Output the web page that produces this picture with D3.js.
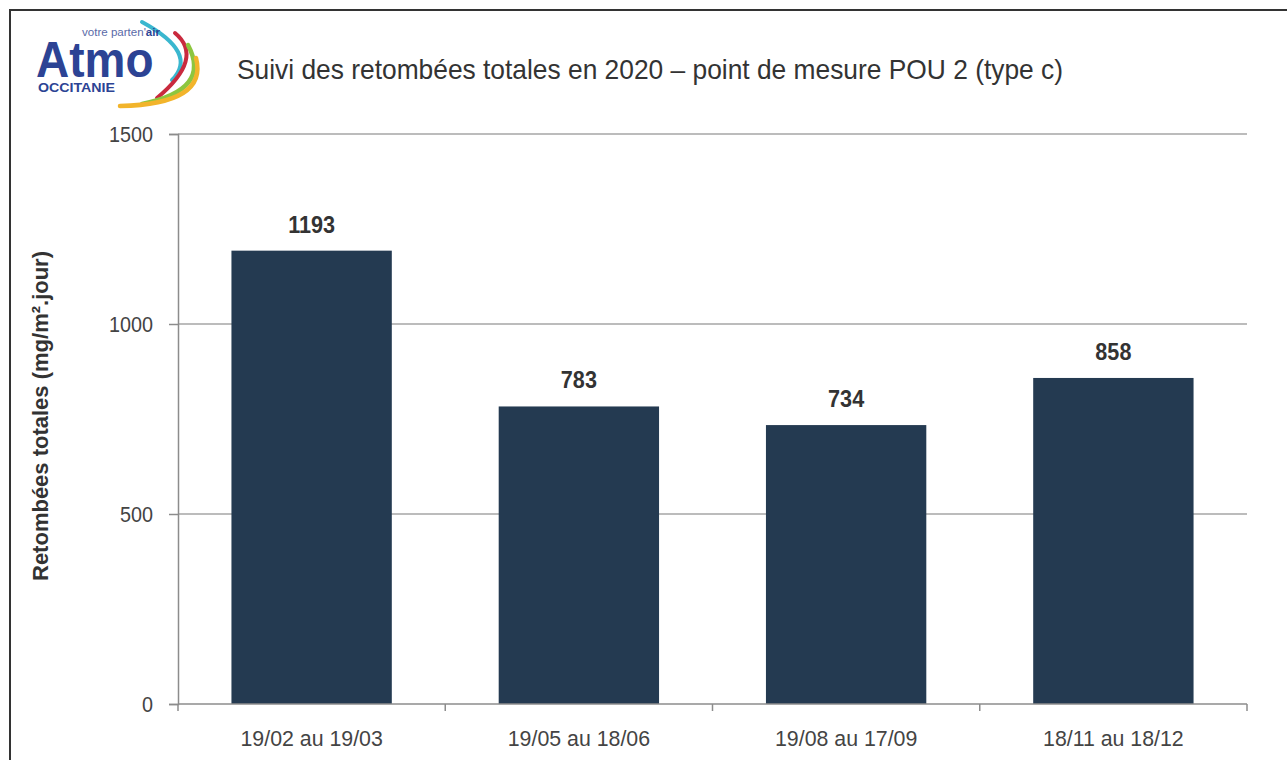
<!DOCTYPE html>
<html><head><meta charset="utf-8">
<script src="https://cdn.jsdelivr.net/npm/d3@7"></script>
<style>
html,body{margin:0;padding:0;background:#fff;}
svg{display:block;font-family:"Liberation Sans",Arial,sans-serif;}
</style></head>
<body>
<svg id="c" width="1287" height="760"></svg>
<script>
const categories = ["19/02 au 19/03", "19/05 au 18/06", "19/08 au 17/09", "18/11 au 18/12"];
const values = [1193, 783, 734, 858];
const yTicks = [0, 500, 1000, 1500];
const title = "Suivi des retombées totales en 2020 – point de mesure POU 2 (type c)";
const yLabel = "Retombées totales (mg/m².jour)";

const svg = d3.select("#c");
const W = 1287, H = 760;
const m = {left:178, right:1247, top:134, bottom:704};

svg.append("rect").attr("width",W).attr("height",H).attr("fill","#fff");
// frame
svg.append("path").attr("d",`M10,${H+5} L10,10 L${W+5},10`).attr("fill","none").attr("stroke","#333").attr("stroke-width",2);

const x = d3.scaleBand().domain(categories).range([m.left,m.right]).paddingInner(0.4).paddingOuter(0.2);
const y = d3.scaleLinear().domain([0,1500]).range([m.bottom,m.top]);

// gridlines
svg.append("g").selectAll("line").data(yTicks.filter(d=>d>0)).join("line")
  .attr("x1",m.left).attr("x2",m.right).attr("y1",d=>y(d)).attr("y2",d=>y(d))
  .attr("stroke","#a6a6a6").attr("stroke-width",1.5);

// y axis
const yAxis = svg.append("g").attr("transform",`translate(${m.left},0)`)
  .call(d3.axisLeft(y).tickValues(yTicks).tickFormat(d3.format("d")).tickSize(9).tickPadding(16));
yAxis.select(".domain").attr("stroke","#8c8c8c").attr("stroke-width",1.5);
yAxis.selectAll(".tick line").attr("stroke","#8c8c8c").attr("stroke-width",1.5);
yAxis.selectAll(".tick text").attr("font-size",22).attr("fill","#444")
  .attr("font-family","Liberation Sans, Arial, sans-serif")
  .each(function(){
    const t=d3.select(this); const xx=+t.attr("x");
    t.attr("x",0).attr("transform",`translate(${xx},0) scale(0.9,1)`).attr("dy","0.36em");
  });

// bars
svg.append("g").selectAll("rect").data(values).join("rect")
  .attr("x",(d,i)=>x(categories[i])).attr("width",x.bandwidth())
  .attr("y",d=>y(d)).attr("height",d=>y(0)-y(d)).attr("fill","#243a51");

// x axis
const xb = d3.scaleLinear().domain([0,categories.length]).range([m.left,m.right]);
svg.append("line").attr("x1",m.left).attr("x2",m.right).attr("y1",y(0)).attr("y2",y(0))
  .attr("stroke","#8c8c8c").attr("stroke-width",1.5);
svg.append("g").selectAll("line").data(d3.range(categories.length+1)).join("line")
  .attr("x1",d=>xb(d)).attr("x2",d=>xb(d)).attr("y1",y(0)).attr("y2",y(0)+7)
  .attr("stroke","#8c8c8c").attr("stroke-width",1.5);
svg.append("g").selectAll("text").data(categories).join("text")
  .attr("transform",d=>`translate(${x(d)+x.bandwidth()/2},${y(0)+42}) scale(0.97,1)`)
  .attr("text-anchor","middle").attr("font-size",22).attr("fill","#444").text(d=>d);

// value labels
svg.append("g").selectAll("text").data(values).join("text")
  .attr("transform",(d,i)=>`translate(${x(categories[i])+x.bandwidth()/2},${y(d)-18}) scale(0.9,1)`)
  .attr("text-anchor","middle").attr("font-size",24).attr("font-weight","bold").attr("fill","#333").text(d=>d);

// y label
svg.append("text").attr("transform",`translate(48,416) rotate(-90)`)
  .attr("text-anchor","middle").attr("font-size",22).attr("font-weight","bold").attr("fill","#333")
  .attr("textLength",330).attr("lengthAdjust","spacingAndGlyphs")
  .text(yLabel);

// title
svg.append("text").attr("x",237).attr("y",79).attr("font-size",28).attr("fill","#333")
  .attr("textLength",826).attr("lengthAdjust","spacingAndGlyphs").text(title);

// logo
const logo = svg.append("g");
const arcs=[
  {s:[142,22], c:[199,53], e:[172,80], col:"#3ab7cf", w:4},
  {s:[175,33], c:[205,58], e:[157,98], col:"#c92a3e", w:4},
  {s:[188,45], c:[212,90], e:[142,104], col:"#8dc63f", w:4.5},
  {s:[196,58], c:[208,104], e:[120,106], col:"#f2b42b", w:4.5},
];
arcs.forEach(a=>{
  const p=d3.path(); p.moveTo(a.s[0],a.s[1]); p.quadraticCurveTo(a.c[0],a.c[1],a.e[0],a.e[1]);
  logo.append("path").attr("d",p.toString()).attr("fill","none").attr("stroke",a.col)
    .attr("stroke-width",a.w).attr("stroke-linecap","round");
});
logo.append("text").attr("transform","translate(36,77) scale(0.92,1)").attr("font-size",50).attr("font-weight","bold")
  .attr("fill","#2c4394").attr("font-family","Liberation Sans, Arial, sans-serif").text("Atmo");
const tag = logo.append("text").attr("x",82).attr("y",36).attr("font-size",10).attr("fill","#5a6aa8")
  .attr("textLength",78).attr("lengthAdjust","spacingAndGlyphs");
tag.append("tspan").text("votre parten'");
tag.append("tspan").attr("font-weight","bold").attr("fill","#2c4394").text("air");
logo.append("text").attr("x",38).attr("y",92).attr("font-size",12.5).attr("font-weight","bold")
  .attr("fill","#2c4394").attr("textLength",77).attr("lengthAdjust","spacingAndGlyphs").text("OCCITANIE");
</script>
</body></html>
